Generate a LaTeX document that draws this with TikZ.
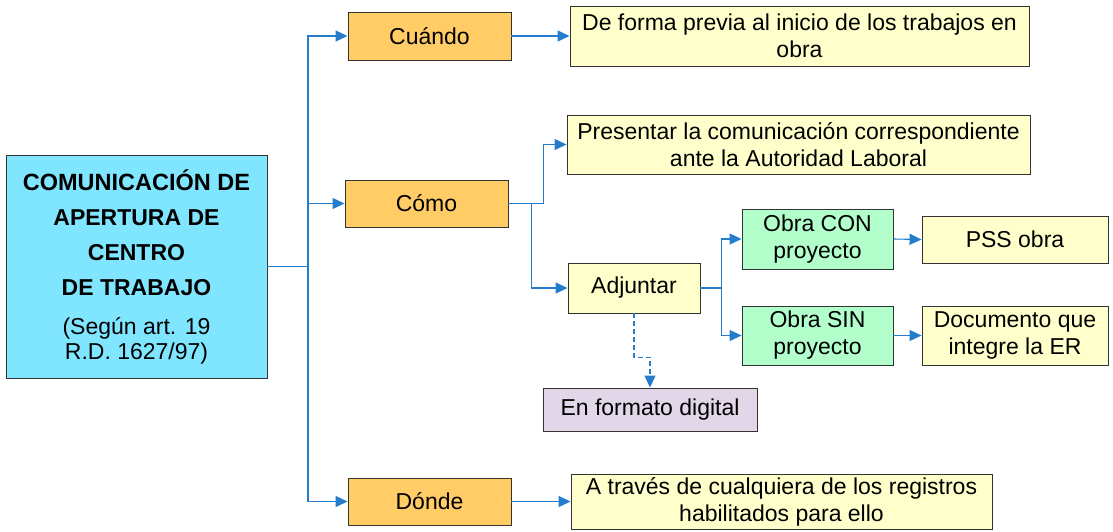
\documentclass[tikz,border=0pt]{standalone}
\usepackage{fontspec}
\setmainfont{Liberation Sans}
\usetikzlibrary{arrows.meta,calc}

\definecolor{cyanbox}{RGB}{128,230,255}
\definecolor{naranja}{RGB}{255,204,102}
\definecolor{crema}{RGB}{255,255,204}
\definecolor{verde}{RGB}{179,255,204}
\definecolor{lila}{RGB}{225,215,232}
\definecolor{linea}{RGB}{38,124,204}
\definecolor{borde}{RGB}{51,51,51}

\tikzset{
	caja/.style={draw=borde,line width=0.9pt,inner sep=0pt,align=center,
		font=\fontsize{23}{27}\selectfont},
	conn/.style={draw=linea,line width=1.1pt,-{Triangle[length=12pt,width=11pt]}},
}

\begin{document}
\begin{tikzpicture}[x=1pt,y=-1pt]
\useasboundingbox (0,0) rectangle (1113,531);

\node[caja,fill=cyanbox,minimum width=261,minimum height=223] (main) at (136.5,266.5)
	{\fontsize{23.5}{27}\selectfont\bfseries COMUNICACIÓN DE\\[8pt]\bfseries APERTURA DE\\[8pt]\bfseries CENTRO\\[8pt]\bfseries DE TRABAJO\\[12pt]
	(Según art. 19\\[-2pt]R.D. 1627/97)};

\node[caja,fill=naranja,minimum width=163,minimum height=48] (cuando) at (429.5,36) {Cuándo};
\node[caja,fill=naranja,minimum width=163,minimum height=47] (como) at (426.5,203.5) {Cómo};
\node[caja,fill=naranja,minimum width=163,minimum height=47] (donde) at (429.5,501.5) {Dónde};

\node[caja,fill=crema,minimum width=459,minimum height=60] (previa) at (799.5,36)
	{De forma previa al inicio de los trabajos en\\obra};
\node[caja,fill=crema,minimum width=463,minimum height=59] (presentar) at (798.5,144.5)
	{Presentar la comunicación correspondiente\\ante la Autoridad Laboral};
\node[caja,fill=crema,minimum width=132,minimum height=50] (adjuntar) at (634,288) {Adjuntar};
\node[caja,fill=crema,minimum width=421,minimum height=55] (traves) at (781.5,501.5)
	{A través de cualquiera de los registros\\habilitados para ello};

\node[caja,fill=verde,minimum width=151,minimum height=60] (obracon) at (817.5,239)
	{Obra CON\\proyecto};
\node[caja,fill=verde,minimum width=151,minimum height=59] (obrasin) at (817.5,335.5)
	{Obra SIN\\proyecto};
\node[caja,fill=crema,minimum width=186,minimum height=47] (pss) at (1015,239.5) {PSS obra};
\node[caja,fill=crema,minimum width=186,minimum height=59] (documento) at (1015,335.5)
	{Documento que\\integre la ER};

\node[caja,fill=lila,minimum width=214,minimum height=43] (digital) at (650,409.5)
	{En formato digital};

% tronco principal
\coordinate (tronco) at (308,266.5);
\draw[linea,line width=1.1pt] (main.east) -- (tronco);
\draw[conn] (tronco) |- (cuando.west);
\draw[conn] (tronco) |- (como.west);
\draw[conn] (tronco) |- (donde.west);

\draw[conn] (cuando.east) -- (previa.west);
\draw[conn] (donde.east) -- (traves.west);

\draw[conn] (como.east) -- ++(35,0) |- (presentar.west);
\draw[conn] (como.east) -- ++(23,0) |- (adjuntar.west);

\draw[conn] (adjuntar.east) -- ++(21,0) |- (obracon.west);
\draw[conn] (adjuntar.east) -- ++(21,0) |- (obrasin.west);
\draw[conn] (obracon.east) -- (pss.west);
\draw[conn] (obrasin.east) -- (documento.west);

\draw[conn,dash pattern=on 5pt off 3pt] (adjuntar.south) -- ++(0,44) -| (digital.north);

\end{tikzpicture}
\end{document}
